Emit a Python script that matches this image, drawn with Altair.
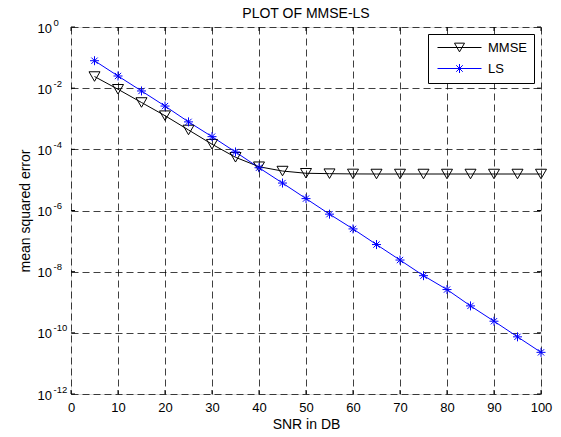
import altair as alt
import pandas as pd

snr = [5, 10, 15, 20, 25, 30, 35, 40, 45, 50, 55, 60, 65, 70, 75, 80, 85, 90, 95, 100]
mmse = [0.024, 0.0092, 0.0034, 0.00126, 4.3e-4, 1.47e-4, 5.5e-5, 2.7e-5, 1.95e-5, 1.65e-5,
        1.6e-5, 1.57e-5, 1.56e-5, 1.56e-5, 1.56e-5, 1.56e-5, 1.56e-5, 1.56e-5, 1.56e-5, 1.56e-5]
ls = [0.079, 0.025, 0.0081, 0.0026, 7.9e-4, 2.6e-4, 8.2e-5, 2.5e-5, 7.9e-6, 2.45e-6,
      7.6e-7, 2.5e-7, 7.7e-8, 2.4e-8, 7.4e-9, 2.6e-9, 7.6e-10, 2.4e-10, 7.4e-11, 2.3e-11]
series = ["MMSE", "LS"]
colors = ["#000000", "#0000ff"]
x_ticks = [0, 10, 20, 30, 40, 50, 60, 70, 80, 90, 100]
y_ticks = [1e0, 1e-2, 1e-4, 1e-6, 1e-8, 1e-10, 1e-12]

FONT = "Liberation Sans"
W, H = 470, 367
TICK = 4

df = pd.DataFrame({
    "snr": snr * 2,
    "mse": mmse + ls,
    "series": ["MMSE"] * len(snr) + ["LS"] * len(snr),
})
df_xt = pd.DataFrame({"snr": x_ticks})
df_yt = pd.DataFrame({"mse": y_ticks})

xscale = alt.Scale(domain=[0, 100], nice=False, zero=False)
yscale = alt.Scale(type="log", domain=[1e-12, 1], nice=False)

x_axis = alt.Axis(values=x_ticks, grid=True, gridDash=[7, 4], gridColor="#000", gridOpacity=0.75,
                  domain=False, ticks=False, tickSize=0, labelFontSize=13, labelFont=FONT,
                  labelColor="#000", labelPadding=7, labelFlush=False,
                  title="SNR in DB", titleFont=FONT, titleFontSize=14, titleFontWeight="normal",
                  titleColor="#000", titlePadding=3)

y_axis_base = alt.Axis(values=y_ticks, grid=True, gridDash=[7, 4], gridColor="#000", gridOpacity=0.75,
                       domain=False, ticks=False, tickSize=0, labelExpr="'10'", labelAlign="left",
                       labelPadding=34, labelOffset=1, labelFontSize=13, labelFont=FONT,
                       labelColor="#000", labelFlush=False,
                       title="mean squared error", titleFont=FONT, titleFontSize=14,
                       titleFontWeight="normal", titleColor="#000", titlePadding=5)

y_axis_exp = alt.Axis(values=y_ticks, orient="left", grid=False, domain=False, ticks=False, tickSize=0,
                      labelExpr="'' + round(log(datum.value) / LN10)", labelAlign="left",
                      labelPadding=18, labelOffset=-5, labelFontSize=9.5, labelFont=FONT,
                      labelColor="#000", labelFlush=False, title=None)

tri_path = "M-4.4,0L4.4,0M-1,-0.87L1,-0.87L0,0.87Z"
star_path = "M-4.4,0L4.4,0M0,-0.9L0,0.9M-0.65,-0.65L0.65,0.65M-0.65,0.65L0.65,-0.65"
star_marker = "M-1,0L1,0M0,-1L0,1M-0.7,-0.7L0.7,0.7M-0.7,0.7L0.7,-0.7"

legend = alt.Legend(
    title=None, orient="none", legendX=357, legendY=7,
    strokeColor="#000", fillColor="#fff", padding=7,
    labelFont=FONT, labelFontSize=13, labelColor="#000",
    symbolSize=100, symbolOffset=18, labelOffset=22, rowPadding=7,
    symbolOpacity=1, symbolStrokeWidth=1,
)

x_enc = alt.X("snr:Q", scale=xscale, axis=x_axis)
y_enc = alt.Y("mse:Q", scale=yscale, axis=y_axis_base)

mmse_line = alt.Chart(df).transform_filter(alt.datum.series == "MMSE").mark_line(
    strokeWidth=1, color="#000").encode(x=x_enc, y=y_enc)
ls_line = alt.Chart(df).transform_filter(alt.datum.series == "LS").mark_line(
    strokeWidth=1, color="#0000ff").encode(x=x_enc, y=y_enc)

legend_layer = alt.Chart(df).mark_point(opacity=0, filled=False, strokeWidth=1).encode(
    x=x_enc, y=y_enc,
    color=alt.Color("series:N", scale=alt.Scale(domain=series, range=colors), legend=legend, sort=series),
    shape=alt.Shape("series:N", scale=alt.Scale(domain=series, range=[tri_path, star_path]),
                    legend=legend, sort=series),
)

# inward tick marks on all four sides of the box
tick_style = dict(color="#000", strokeWidth=1)
xt_bottom = alt.Chart(df_xt).mark_rule(**tick_style).encode(
    x=x_enc, y=alt.value(H), y2=alt.value(H - TICK))
xt_top = alt.Chart(df_xt).mark_rule(**tick_style).encode(
    x=x_enc, y=alt.value(0), y2=alt.value(TICK))
yt_left = alt.Chart(df_yt).mark_rule(**tick_style).encode(
    y=y_enc, x=alt.value(0), x2=alt.value(TICK))
yt_right = alt.Chart(df_yt).mark_rule(**tick_style).encode(
    y=y_enc, x=alt.value(W), x2=alt.value(W - TICK))

group_a = alt.layer(mmse_line, ls_line, xt_bottom, xt_top, yt_left, yt_right, legend_layer)

mmse_pts = alt.Chart(df).transform_filter(alt.datum.series == "MMSE").mark_point(
    shape="triangle-down", filled=False, size=121, strokeWidth=1, color="#000", opacity=1
).encode(
    x=alt.X("snr:Q", scale=xscale),
    y=alt.Y("mse:Q", scale=yscale, axis=y_axis_exp),
)

ls_pts = alt.Chart(df).transform_filter(alt.datum.series == "LS").mark_point(
    shape=star_marker, filled=False, size=81, strokeWidth=1, color="#0000ff", opacity=1
).encode(
    x=alt.X("snr:Q", scale=xscale),
    y=alt.Y("mse:Q", scale=yscale, axis=y_axis_exp),
)

group_b = alt.layer(mmse_pts, ls_pts)

chart = alt.layer(group_a, group_b).resolve_scale(y="independent").resolve_axis(y="independent").properties(
    width=W, height=H,
    autosize=alt.AutoSizeParams(type="none"),
    padding={"left": 63, "top": 19, "right": 12, "bottom": 40},
    title=alt.TitleParams("PLOT OF MMSE-LS", font=FONT, fontSize=14, fontWeight="normal",
                          color="#000", anchor="middle", frame="group", offset=-4),
).configure_view(stroke="#000", strokeWidth=1).configure(background="#fff")

chart.save("out.html", embed_options={"renderer": "svg", "actions": False})
